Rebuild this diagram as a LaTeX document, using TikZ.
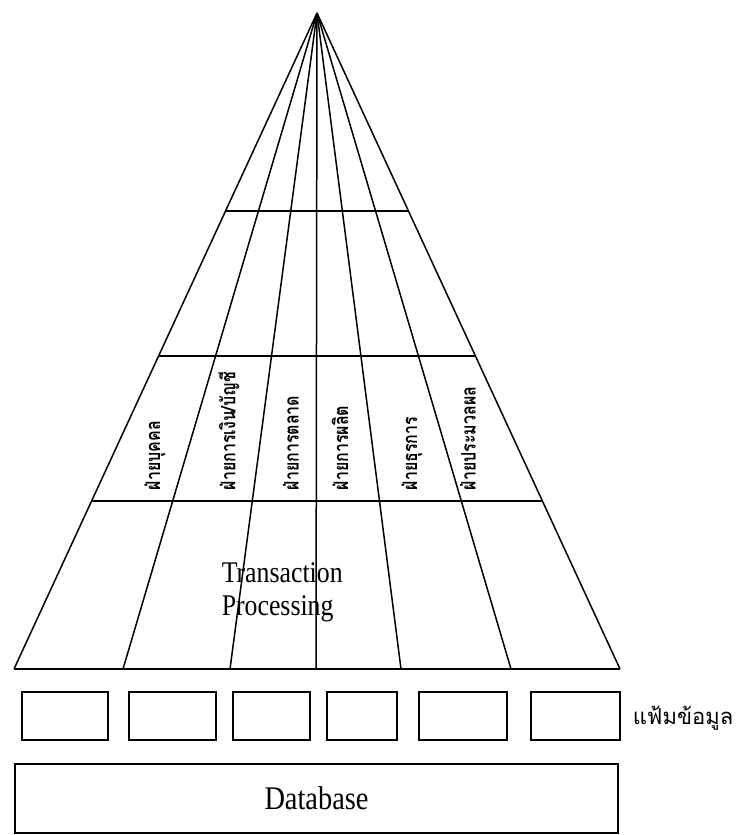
\documentclass[tikz,border=0pt]{standalone}
\usepackage{fontspec}
\setmainfont{Liberation Serif}[FakeStretch=0.86]
\newfontfamily\thaifont[Script=Thai]{Loma}
\newfontfamily\thainarrow[Script=Thai,FakeStretch=0.8]{Loma}
\usetikzlibrary{calc}

\begin{document}
\begin{tikzpicture}[
    x=1pt, y=-1pt, line width=1.5pt,
    filebox/.style={draw, rectangle, minimum height=48pt, inner sep=0pt},
    dept/.style={rotate=90, anchor=west, inner sep=0pt, font=\thainarrow\bfseries\fontsize{20}{20}\selectfont}
]
\useasboundingbox (0,0) rectangle (736,835);

% apex and base points of the pyramid
\coordinate (top) at (317,13);
\foreach \i/\x in {0/14,1/123,2/230,3/316,4/401,5/511,6/620}
  \coordinate (b\i) at (\x,669);

% spokes and base
\foreach \i in {0,...,6}
  \draw (top) -- (b\i);
\draw (b0) -- (b6);

% levels
\foreach \n/\f in {1/0.302,2/0.523,3/0.744} {
  \coordinate (l\n L) at ($(top)!\f!(b0)$);
  \coordinate (l\n R) at ($(top)!\f!(b6)$);
  \draw (l\n L) -- (l\n R);
}

% departments
\node[dept] (d1) at (155,491) {ฝ่ายบุคคล};
\node[dept] (d2) at (229,491) {ฝ่ายการเงิน/บัญชี};
\node[dept] (d3) at (291,491) {ฝ่ายการตลาด};
\node[dept] (d4) at (340,491) {ฝ่ายการผลิต};
\node[dept] (d5) at (412,491) {ฝ่ายธุรการ};
\node[dept] (d6) at (468,491) {ฝ่ายประมวลผล};

\node[anchor=west, align=left, inner sep=0pt, font=\fontsize{30}{33}\selectfont] (tp) at (221,592) {Transaction\\Processing};

% files
\node[filebox, minimum width=86pt] (f1) at (65,716) {};
\node[filebox, minimum width=87pt] (f2) at (172.5,716) {};
\node[filebox, minimum width=77pt] (f3) at (271.5,716) {};
\node[filebox, minimum width=70pt] (f4) at (362,716) {};
\node[filebox, minimum width=88pt] (f5) at (463,716) {};
\node[filebox, minimum width=89pt] (f6) at (575.5,716) {};
\node[anchor=west, inner sep=0pt, font=\thaifont\fontsize{22}{22}\selectfont] (files) at (632,718) {แฟ้มข้อมูล};

% database
\node[draw, rectangle, minimum width=603pt, minimum height=69pt, inner sep=0pt, font=\fontsize{33}{33}\selectfont] (db) at (316.5,798.5) {Database};

\end{tikzpicture}
\end{document}
